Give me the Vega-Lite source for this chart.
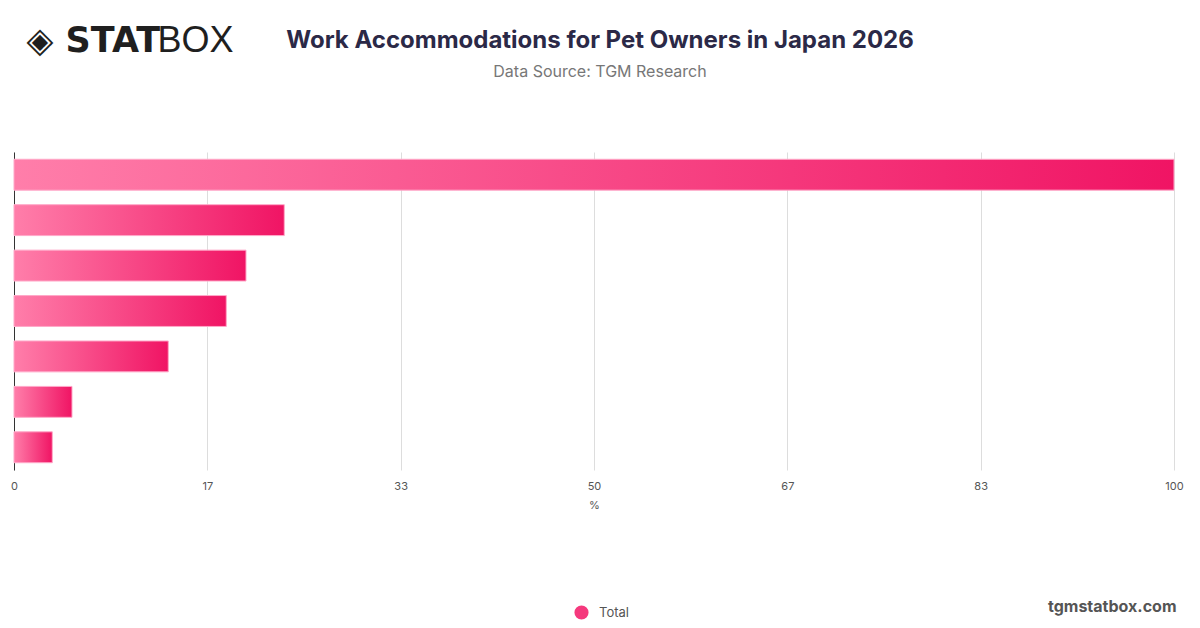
{
  "$schema": "https://vega.github.io/schema/vega-lite/v6.json",
  "autosize": {"type": "none"},
  "width": 1160,
  "height": 318,
  "padding": {"left": 14, "top": 152, "right": 26, "bottom": 158},
  "background": "#ffffff",
  "title": {
    "text": "Work Accommodations for Pet Owners in Japan 2026",
    "subtitle": "Data Source: TGM Research",
    "anchor": "middle",
    "frame": "group",
    "dx": 6,
    "dy": 58,
    "offset": 0,
    "font": "Inter",
    "fontSize": 24,
    "fontWeight": "bold",
    "color": "#2b2947",
    "subtitleFont": "Inter",
    "subtitleFontSize": 16,
    "subtitleColor": "#777777",
    "subtitlePadding": 11
  },
  "data": {
    "values": [
      {"item": "Total", "value": 100, "series": "Total"},
      {"item": "Flexible working hours", "value": 23.3, "series": "Total"},
      {"item": "Remote work to care for pets", "value": 20.0, "series": "Total"},
      {"item": "Pet bereavement leave", "value": 18.3, "series": "Total"},
      {"item": "Pet-friendly office", "value": 13.3, "series": "Total"},
      {"item": "Pet insurance support", "value": 5.0, "series": "Total"},
      {"item": "Other", "value": 3.3, "series": "Total"}
    ]
  },
  "encoding": {
    "y": {
      "field": "item",
      "type": "nominal",
      "sort": null,
      "scale": {"paddingInner": 0.32, "paddingOuter": 0.16}
    },
    "x": {
      "field": "value",
      "type": "quantitative",
      "scale": {"domain": [0, 100], "nice": false}
    }
  },
  "layer": [
    {
      "mark": {
        "type": "bar",
        "fill": {
          "gradient": "linear",
          "x1": 0, "y1": 0, "x2": 1, "y2": 0,
          "stops": [
            {"offset": 0, "color": "#ff7eaa"},
            {"offset": 1, "color": "#f01464"}
          ]
        },
        "stroke": "#ffa8c8",
        "strokeWidth": 1
      },
      "encoding": {
        "x": {
          "field": "value",
          "type": "quantitative",
          "axis": {
            "values": [0, 16.6667, 33.3333, 50, 66.6667, 83.3333, 100],
            "format": ".0f",
            "grid": true,
            "gridColor": "#dddddd",
            "domain": false,
            "ticks": false,
            "labelFlush": false,
            "labelPadding": 10,
            "labelFont": "Inter",
            "labelFontSize": 11,
            "labelColor": "#555555",
            "title": "%",
            "titleFont": "Inter",
            "titleFontSize": 11,
            "titleFontWeight": "normal",
            "titleColor": "#555555",
            "titlePadding": 8
          }
        },
        "y": {
          "field": "item",
          "type": "nominal",
          "sort": null,
          "axis": {
            "labels": false,
            "ticks": false,
            "domain": true,
            "domainColor": "#333333",
            "grid": false,
            "title": "◈ STAT",
            "titleAngle": 0,
            "titleAlign": "left",
            "titleBaseline": "middle",
            "titleX": 12,
            "titleY": -112,
            "titleFont": "DejaVu Sans",
            "titleFontSize": 35,
            "titleFontWeight": 900,
            "titleColor": "#1f1f1f"
          }
        }
      }
    },
    {
      "mark": {"type": "bar", "opacity": 0},
      "encoding": {
        "x": {
          "field": "value",
          "type": "quantitative",
          "axis": {
            "orient": "top",
            "labels": false,
            "ticks": false,
            "domain": false,
            "grid": false,
            "title": "BOX",
            "titleAngle": 0,
            "titleAlign": "left",
            "titleBaseline": "middle",
            "titleX": 143,
            "titleY": -112,
            "titleFont": "Liberation Sans",
            "titleFontSize": 36,
            "titleFontWeight": 300,
            "titleColor": "#1f1f1f"
          }
        },
        "y": {
          "field": "item",
          "type": "nominal",
          "sort": null,
          "axis": {
            "orient": "right",
            "labels": false,
            "ticks": false,
            "domain": false,
            "grid": false,
            "title": "tgmstatbox.com",
            "titleAngle": 0,
            "titleAlign": "right",
            "titleBaseline": "middle",
            "titleX": 2,
            "titleY": 454,
            "titleFont": "Inter",
            "titleFontSize": 16,
            "titleFontWeight": "bold",
            "titleColor": "#555555"
          }
        },
        "color": {
          "field": "series",
          "type": "nominal",
          "scale": {"range": ["#f5397d"]},
          "legend": {
            "orient": "none",
            "legendX": 560,
            "legendY": 453,
            "title": null,
            "symbolType": "circle",
            "symbolSize": 200,
            "symbolOpacity": 1,
            "symbolStrokeWidth": 0,
            "labelFont": "Inter",
            "labelFontSize": 13,
            "labelColor": "#555555",
            "labelOffset": 10
          }
        }
      }
    }
  ],
  "resolve": {"axis": {"x": "independent", "y": "independent"}},
  "config": {"view": {"stroke": null}}
}
